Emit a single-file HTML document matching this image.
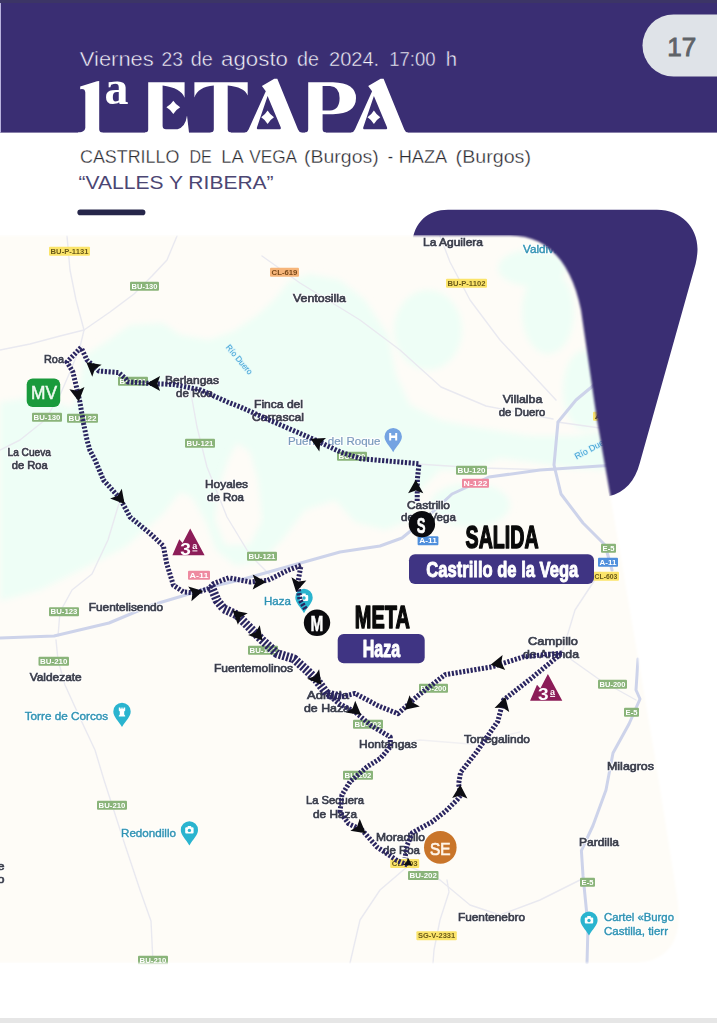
<!DOCTYPE html>
<html><head><meta charset="utf-8"><title>1a Etapa</title>
<style>
html,body{margin:0;padding:0;background:#fff;}
body{width:717px;height:1023px;overflow:hidden;position:relative;font-family:"Liberation Sans",sans-serif;}
svg{position:absolute;left:0;top:0;display:block;}
text{font-family:"Liberation Sans",sans-serif;}
.lbh{font-size:11.5px;fill:#fff;stroke:#fff;stroke-width:2.4px;stroke-linejoin:round;opacity:.9}
.lb{font-size:11.5px;fill:#3a3d4a;stroke:#3a3d4a;stroke-width:.65px;}
.tl{font-size:11.5px;fill:#2f93b3;stroke:#2f93b3;stroke-width:.4px;}
.tb{font-size:11.5px;fill:#7b9bbd;stroke:#7b9bbd;stroke-width:.2px;}
.sg{font-size:7px;font-weight:bold;}
.rt{fill:none;stroke:#2b2560;stroke-width:5;stroke-dasharray:2.2 1.6;stroke-linejoin:round;}
.rd{fill:none;stroke:#dcdfee;stroke-width:2;stroke-linecap:round;stroke-linejoin:round;}
.rd2{fill:none;stroke:#cdd3ea;stroke-width:3;stroke-linecap:round;stroke-linejoin:round;}
.rd3{fill:none;stroke:#e9e9f0;stroke-width:1.4;stroke-linecap:round;stroke-linejoin:round;}
</style></head><body>
<svg width="717" height="1023" viewBox="0 0 717 1023">
<defs>
<filter id="mblur" x="-5%" y="-5%" width="110%" height="110%"><feGaussianBlur stdDeviation="1.3"/></filter>
<mask id="mapmask" maskUnits="userSpaceOnUse" x="-30" y="200" width="780" height="800"><path d="M-30,235.5 L510,235.5 C546,235.5 571,260 581,310 L597,420 L610.2,495 L655.5,760 L677,896 Q688,963 630,963 L-30,963 Z" fill="#fff" filter="url(#mblur)"/></mask>
<filter id="soft" x="-5%" y="-5%" width="110%" height="110%"><feGaussianBlur stdDeviation="0.45"/></filter>
<filter id="soft2" x="-5%" y="-5%" width="110%" height="110%"><feGaussianBlur stdDeviation="3"/></filter>
<path id="arr" d="M0,-7.2 L7.6,6.3 L0,3.6 L-7.6,6.3 Z" fill="#0d0d12"/>
</defs>
<rect x="0" y="0" width="717" height="1023" fill="#ffffff"/>

<rect x="0" y="0" width="717" height="132.6" fill="#3a2e73"/>
<rect x="0" y="0" width="1" height="132.6" fill="#b9b2de"/>
<rect x="0" y="0" width="717" height="3" fill="#3c3566"/>
<path d="M717,14.5 L673.5,14.5 A31,31 0 0 0 673.5,76.5 L717,76.5 Z" fill="#dfe3e8"/>
<text x="667.2" y="56" font-size="26.5" fill="#5f6368" stroke="#5f6368" stroke-width="0.9" textLength="29" lengthAdjust="spacingAndGlyphs">17</text>
<text x="79.8" y="65.8" font-size="20" fill="#f4f2fb" stroke="#3a2e73" stroke-width="0.45" textLength="74.0" lengthAdjust="spacingAndGlyphs">Viernes</text>
<text x="161.5" y="65.8" font-size="20" fill="#f4f2fb" stroke="#3a2e73" stroke-width="0.45" textLength="21.5" lengthAdjust="spacingAndGlyphs">23</text>
<text x="190.8" y="65.8" font-size="20" fill="#f4f2fb" stroke="#3a2e73" stroke-width="0.45" textLength="22.0" lengthAdjust="spacingAndGlyphs">de</text>
<text x="221.1" y="65.8" font-size="20" fill="#f4f2fb" stroke="#3a2e73" stroke-width="0.45" textLength="66.9" lengthAdjust="spacingAndGlyphs">agosto</text>
<text x="297" y="65.8" font-size="20" fill="#f4f2fb" stroke="#3a2e73" stroke-width="0.45" textLength="21.9" lengthAdjust="spacingAndGlyphs">de</text>
<text x="329" y="65.8" font-size="20" fill="#f4f2fb" stroke="#3a2e73" stroke-width="0.45" textLength="50.2" lengthAdjust="spacingAndGlyphs">2024.</text>
<text x="389.2" y="65.8" font-size="20" fill="#f4f2fb" stroke="#3a2e73" stroke-width="0.45" textLength="46.4" lengthAdjust="spacingAndGlyphs">17:00</text>
<text x="445.7" y="65.8" font-size="20" fill="#f4f2fb" stroke="#3a2e73" stroke-width="0.45" textLength="11.3" lengthAdjust="spacingAndGlyphs">h</text>
<path fill="#ffffff" d="M80.2,86.6 L97,81.2 L99.2,81 L99.2,129.2 Q99.4,132.5 102.5,132.6 L102.5,135 L78,135 L78,132.6 Q84.6,132.4 85.3,128 L85.3,92.5 Q85,88.2 80.2,89.3 Z"/>
<text x="104.6" y="103.8" font-family="Liberation Serif" font-weight="bold" font-size="49.5" fill="#ffffff" textLength="24" lengthAdjust="spacingAndGlyphs" style="font-family:'Liberation Serif',serif">a</text>
<path fill="#ffffff" d="M148.2,82.2 L184.6,82.2 L184.6,97.8 Q181,88 162.6,85.6 L162.6,126 Q162.8,129.2 166,129.2 L177.5,129.2 Q185.5,127 187,115.5 L189,132.5 L189,135 L145,135 L145,132.6 Q148.2,132.4 148.2,129.5 Z"/>
<path fill="#ffffff" d="M173.3,100.7 Q175.92200000000003,104.792 180.20000000000002,107.3 Q175.92200000000003,109.80799999999999 173.3,113.89999999999999 Q170.678,109.80799999999999 166.4,107.3 Q170.678,104.792 173.3,100.7Z"/>
<path fill="#ffffff" d="M194.4,82.2 L247.7,82.2 L247.7,95.5 Q244,87 227.7,85.6 L227.7,129.3 Q228,132.5 231,132.6 L231,135 L210.5,135 L210.5,132.6 Q213.6,132.5 213.8,129.3 L213.8,85.6 Q198,87 194.4,97.5 Z"/>
<g transform="translate(-106.3,0)"><path fill="#ffffff" d="M368.2,85.9 L380.6,78.8 L383.6,78.8 L404.3,129.4 Q405.6,132.4 408,132.7 L408,135 L351,135 L351,132.7 Q353.6,132.3 354.9,129.4 L372.1,91.2 Z"/><path fill="#3a2e73" d="M373.9,96 L386.9,127 Q387.9,129.3 385.4,129.3 L364.9,129.3 Q362.4,129.3 363.4,127 Z"/><path fill="#ffffff" d="M373.9,110.6 Q376.332,114.75399999999999 380.29999999999995,117.3 Q376.332,119.846 373.9,124.0 Q371.46799999999996,119.846 367.5,117.3 Q371.46799999999996,114.75399999999999 373.9,110.6Z"/></g>
<g transform="translate(0,0)"><path fill="#ffffff" d="M368.2,85.9 L380.6,78.8 L383.6,78.8 L404.3,129.4 Q405.6,132.4 408,132.7 L408,135 L351,135 L351,132.7 Q353.6,132.3 354.9,129.4 L372.1,91.2 Z"/><path fill="#3a2e73" d="M373.9,96 L386.9,127 Q387.9,129.3 385.4,129.3 L364.9,129.3 Q362.4,129.3 363.4,127 Z"/><path fill="#ffffff" d="M373.9,110.6 Q376.332,114.75399999999999 380.29999999999995,117.3 Q376.332,119.846 373.9,124.0 Q371.46799999999996,119.846 367.5,117.3 Q371.46799999999996,114.75399999999999 373.9,110.6Z"/></g>
<path fill="#ffffff" fill-rule="evenodd" d="M308.2,82.2 L333,82.2 Q356,83 356,98 Q356,113.5 333,114.3 L322.6,114.3 L322.6,129.3 Q322.8,132.5 326,132.6 L326,135 L305,135 L305,132.6 Q308,132.5 308.2,129.3 Z M322.6,86 L322.6,110.6 L330,110.6 Q339.6,110 339.6,98 Q339.6,86.6 330,86 Z"/>
<text x="80" y="162.8" font-size="17.6" fill="#2a2a30" stroke="#ffffff" stroke-width="0.3" textLength="99.4" lengthAdjust="spacingAndGlyphs">CASTRILLO</text>
<text x="189.4" y="162.8" font-size="17.6" fill="#2a2a30" stroke="#ffffff" stroke-width="0.3" textLength="22.3" lengthAdjust="spacingAndGlyphs">DE</text>
<text x="221.3" y="162.8" font-size="17.6" fill="#2a2a30" stroke="#ffffff" stroke-width="0.3" textLength="22.3" lengthAdjust="spacingAndGlyphs">LA</text>
<text x="249.2" y="162.8" font-size="17.6" fill="#2a2a30" stroke="#ffffff" stroke-width="0.3" textLength="47.9" lengthAdjust="spacingAndGlyphs">VEGA</text>
<text x="304" y="162.8" font-size="17.6" fill="#2a2a30" stroke="#ffffff" stroke-width="0.3" textLength="74.7" lengthAdjust="spacingAndGlyphs">(Burgos)</text>
<text x="387.7" y="162.8" font-size="17.6" fill="#2a2a30" stroke="#ffffff" stroke-width="0.3" textLength="5.3" lengthAdjust="spacingAndGlyphs">-</text>
<text x="398.7" y="162.8" font-size="17.6" fill="#2a2a30" stroke="#ffffff" stroke-width="0.3" textLength="48.6" lengthAdjust="spacingAndGlyphs">HAZA</text>
<text x="455.6" y="162.8" font-size="17.6" fill="#2a2a30" stroke="#ffffff" stroke-width="0.3" textLength="75.4" lengthAdjust="spacingAndGlyphs">(Burgos)</text>
<text x="78.6" y="188.6" font-size="18.2" fill="#4b4673" textLength="195" lengthAdjust="spacingAndGlyphs">“VALLES Y RIBERA”</text>
<rect x="77.4" y="209.6" width="68" height="5.6" rx="2.8" fill="#26264a"/>
<path fill="#3a2e73" d="M412,244 C414,222 428,209.8 448,209.8 L657,209.8 C682,209.8 699,229 697.4,252 Q697,258 695.6,264 L639.8,463 C635,481 625,492.5 609,496.3 L560,300 Z"/><g mask="url(#mapmask)">
<rect x="0" y="235" width="717" height="728" fill="#fefcf7"/>
<g fill="#eefef6" filter="url(#soft2)">
<path d="M0,402 L30,398 L58,403 L72,408 L78,395 L84,356 L109,340 L130,325 L163,323 L180,335 L209,340 L234,331 L259,314 L276,298 L289,281 L310,274 L340,280 L365,300 L388,335 L396,375 L410,405 L440,420 L480,428 L530,436 L575,436 L610,430 L612,470 L570,468 L530,462 L500,458 L470,470 L440,470 L420,490 L410,520 L385,530 L355,522 L335,500 L305,510 L282,540 L262,560 L236,566 L216,550 L206,522 L192,497 L180,492 L163,514 L125,547 L84,568 L40,590 L0,601 Z"/>
<ellipse cx="428" cy="330" rx="34" ry="40"/>
<ellipse cx="532" cy="268" rx="34" ry="18"/>
<ellipse cx="548" cy="312" rx="26" ry="42"/>
<ellipse cx="585" cy="390" rx="22" ry="40"/>
<ellipse cx="470" cy="505" rx="40" ry="22"/>
</g>
<g fill="#fefcf7" filter="url(#soft2)">
<path d="M237,443 L250,452 L258,480 L262,520 L250,545 L225,545 L215,520 L218,490 L228,460 Z"/>
</g>
<g class="rd3">
<path d="M67,236 L70,270 L76,300 L84,330 L80,347"/>
<path d="M84,330 L110,312 L134,294 L152,276 L167,260 L177,236"/>
<path d="M0,350 L30,344 L60,336 L84,330"/>
<path d="M80,347 L70,372 L60,395 L45,420 L20,440 L0,450"/>
<path d="M262,256 L300,283 L360,320 L400,350 L441,387 L486,406 L553,419"/>
<path d="M440,236 L450,262 L470,300 L500,340 L530,372 L556,400"/>
<path d="M190,388 L197,427 L207,467 L227,517 L250,555 L275,580"/>
<path d="M58,636 L60,612 L72,590 L92,574 L108,540 L120,500"/>
<path d="M56,640 L58,660 L65,685 L80,718 L95,750 L104,780 L125,845 L140,890 L151,921 L153,963"/>
<path d="M408,866 L440,880 L470,905 L500,915 L540,900 L580,880"/>
<path d="M408,866 L380,890 L360,920 L350,963"/>
<path d="M447,880 L449,892 L440,920 L434,950 L433,963"/>
<path d="M562,653 L600,680 L636,700"/>
<path d="M562,653 L575,610 L600,572"/>
<path d="M417,464 L480,468 L554,470"/>
<path d="M557,422 L600,428 L640,430"/>
<path d="M390,745 L420,740 L470,744 L520,732" style="stroke:#f1f0f2"/>
</g>
<g class="rd2">
<path d="M0,638 L54,636 L109,623 L152,605 L189,594 L214,586 L240,580 L290,566 L340,552 L380,546 L402,538 L424,520 L452,494 L489,477 L540,470 L600,466 L640,464"/>
<path d="M600,380 L576,400 L558,422 L554,465 L561,494 L583,523 L605,545 L612,570"/>
<path d="M638,659 L636,690 L640,699 L629,724 L613,753 L606,790 L593,825.5 L581.4,850.6 L583,875.7 L588,926 L587,963"/>
</g>
<rect x="49" y="246.7" width="41" height="9" rx="1" fill="#fbe46a"/>
<text class="sg" x="50.6" y="253.79999999999998" fill="#6a5a1a" textLength="37.8" lengthAdjust="spacingAndGlyphs">BU-P-1131</text>
<rect x="130" y="281.7" width="29" height="9" rx="1" fill="#8ab47a"/>
<text class="sg" x="131.6" y="288.8" fill="#ffffff" textLength="25.8" lengthAdjust="spacingAndGlyphs">BU-130</text>
<rect x="270" y="267.7" width="29" height="9" rx="1" fill="#f6b57a"/>
<text class="sg" x="271.6" y="274.8" fill="#7a4a1a" textLength="25.8" lengthAdjust="spacingAndGlyphs">CL-619</text>
<rect x="446" y="278.7" width="41" height="9" rx="1" fill="#fbe46a"/>
<text class="sg" x="447.6" y="285.8" fill="#6a5a1a" textLength="37.8" lengthAdjust="spacingAndGlyphs">BU-P-1102</text>
<rect x="32" y="412.7" width="30" height="9" rx="1" fill="#8ab47a"/>
<text class="sg" x="33.6" y="419.8" fill="#ffffff" textLength="26.8" lengthAdjust="spacingAndGlyphs">BU-130</text>
<rect x="67" y="413.7" width="31" height="9" rx="1" fill="#8ab47a"/>
<text class="sg" x="68.6" y="420.8" fill="#ffffff" textLength="27.8" lengthAdjust="spacingAndGlyphs">BU-122</text>
<rect x="185" y="438.7" width="30" height="9" rx="1" fill="#8ab47a"/>
<text class="sg" x="186.6" y="445.8" fill="#ffffff" textLength="26.8" lengthAdjust="spacingAndGlyphs">BU-121</text>
<rect x="247" y="551.7" width="30" height="9" rx="1" fill="#8ab47a"/>
<text class="sg" x="248.6" y="558.8000000000001" fill="#ffffff" textLength="26.8" lengthAdjust="spacingAndGlyphs">BU-121</text>
<rect x="456" y="465.7" width="31" height="9" rx="1" fill="#8ab47a"/>
<text class="sg" x="457.6" y="472.8" fill="#ffffff" textLength="27.8" lengthAdjust="spacingAndGlyphs">BU-120</text>
<rect x="462" y="478.7" width="27" height="9" rx="1" fill="#ee8aa0"/>
<text class="sg" x="463.6" y="485.8" fill="#ffffff" textLength="23.8" lengthAdjust="spacingAndGlyphs">N-122</text>
<rect x="417.6" y="536.2" width="20.8" height="9" rx="1" fill="#4f8fdc"/>
<text class="sg" x="419.20000000000005" y="543.3000000000001" fill="#ffffff" textLength="17.6" lengthAdjust="spacingAndGlyphs">A-11</text>
<rect x="188" y="570.7" width="22" height="9" rx="1" fill="#ee8aa0"/>
<text class="sg" x="189.6" y="577.8000000000001" fill="#ffffff" textLength="18.8" lengthAdjust="spacingAndGlyphs">A-11</text>
<rect x="49" y="607.2" width="30" height="9" rx="1" fill="#8ab47a"/>
<text class="sg" x="50.6" y="614.3000000000001" fill="#ffffff" textLength="26.8" lengthAdjust="spacingAndGlyphs">BU-123</text>
<rect x="38.5" y="656.7" width="30.5" height="9" rx="1" fill="#8ab47a"/>
<text class="sg" x="40.1" y="663.8000000000001" fill="#ffffff" textLength="27.3" lengthAdjust="spacingAndGlyphs">BU-210</text>
<rect x="97" y="800.7" width="30" height="9" rx="1" fill="#8ab47a"/>
<text class="sg" x="98.6" y="807.8000000000001" fill="#ffffff" textLength="26.8" lengthAdjust="spacingAndGlyphs">BU-210</text>
<rect x="138" y="955.7" width="30" height="9" rx="1" fill="#8ab47a"/>
<text class="sg" x="139.6" y="962.8000000000001" fill="#ffffff" textLength="26.8" lengthAdjust="spacingAndGlyphs">BU-210</text>
<rect x="419" y="683.7" width="29" height="9" rx="1" fill="#8ab47a"/>
<text class="sg" x="420.6" y="690.8000000000001" fill="#ffffff" textLength="25.8" lengthAdjust="spacingAndGlyphs">BU-200</text>
<rect x="353" y="719.7" width="30" height="9" rx="1" fill="#8ab47a"/>
<text class="sg" x="354.6" y="726.8000000000001" fill="#ffffff" textLength="26.8" lengthAdjust="spacingAndGlyphs">BU-202</text>
<rect x="343" y="770.7" width="30" height="9" rx="1" fill="#8ab47a"/>
<text class="sg" x="344.6" y="777.8000000000001" fill="#ffffff" textLength="26.8" lengthAdjust="spacingAndGlyphs">BU-202</text>
<rect x="408" y="870.9000000000001" width="30.5" height="9" rx="1" fill="#8ab47a"/>
<text class="sg" x="409.6" y="878.0000000000001" fill="#ffffff" textLength="27.3" lengthAdjust="spacingAndGlyphs">BU-202</text>
<rect x="390.2" y="859.1" width="29" height="9" rx="1" fill="#fbe46a"/>
<text class="sg" x="391.8" y="866.2" fill="#6a5a1a" textLength="25.8" lengthAdjust="spacingAndGlyphs">CL-603</text>
<rect x="601" y="543.7" width="15" height="9" rx="1" fill="#8ab47a"/>
<text class="sg" x="602.6" y="550.8000000000001" fill="#ffffff" textLength="11.8" lengthAdjust="spacingAndGlyphs">E-5</text>
<rect x="598" y="557.7" width="20" height="9" rx="1" fill="#4f8fdc"/>
<text class="sg" x="599.6" y="564.8000000000001" fill="#ffffff" textLength="16.8" lengthAdjust="spacingAndGlyphs">A-11</text>
<rect x="593" y="571.7" width="26" height="9" rx="1" fill="#fbe46a"/>
<text class="sg" x="594.6" y="578.8000000000001" fill="#6a5a1a" textLength="22.8" lengthAdjust="spacingAndGlyphs">CL-603</text>
<rect x="598" y="679.7" width="29" height="9" rx="1" fill="#8ab47a"/>
<text class="sg" x="599.6" y="686.8000000000001" fill="#ffffff" textLength="25.8" lengthAdjust="spacingAndGlyphs">BU-200</text>
<rect x="624" y="707.7" width="15" height="9" rx="1" fill="#8ab47a"/>
<text class="sg" x="625.6" y="714.8000000000001" fill="#ffffff" textLength="11.8" lengthAdjust="spacingAndGlyphs">E-5</text>
<rect x="580" y="877.7" width="15" height="9" rx="1" fill="#8ab47a"/>
<text class="sg" x="581.6" y="884.8000000000001" fill="#ffffff" textLength="11.8" lengthAdjust="spacingAndGlyphs">E-5</text>
<rect x="416.4" y="931.3000000000001" width="40.4" height="9" rx="1" fill="#fbe46a"/>
<text class="sg" x="418.0" y="938.4000000000001" fill="#6a5a1a" textLength="37.199999999999996" lengthAdjust="spacingAndGlyphs">SG-V-2331</text>
<rect x="118" y="376.7" width="30" height="9" rx="1" fill="#8ab47a"/>
<text class="sg" x="119.6" y="383.8" fill="#ffffff" textLength="26.8" lengthAdjust="spacingAndGlyphs">BU-121</text>
<rect x="593" y="411.7" width="22" height="9" rx="1" fill="#fbe46a"/>
<text class="sg" x="594.6" y="418.8" fill="#6a5a1a" textLength="18.8" lengthAdjust="spacingAndGlyphs">A-1</text>
<rect x="337" y="451.7" width="30" height="9" rx="1" fill="#8ab47a"/>
<text class="sg" x="338.6" y="458.8" fill="#ffffff" textLength="26.8" lengthAdjust="spacingAndGlyphs">BU-120</text>
<rect x="248" y="645.7" width="30" height="9" rx="1" fill="#8ab47a"/>
<text class="sg" x="249.6" y="652.8000000000001" fill="#ffffff" textLength="26.8" lengthAdjust="spacingAndGlyphs">BU-121</text>
<text class="lbh" x="423" y="246" textLength="60" lengthAdjust="spacingAndGlyphs">La Aguilera</text>
<text class="lb" x="423" y="246" textLength="60" lengthAdjust="spacingAndGlyphs">La Aguilera</text>
<text class="lbh" x="523" y="253" textLength="40" lengthAdjust="spacingAndGlyphs">Valdivia</text>
<text class="tl" x="523" y="253" textLength="40" lengthAdjust="spacingAndGlyphs">Valdivia</text>
<text class="lbh" x="293" y="302" textLength="53" lengthAdjust="spacingAndGlyphs">Ventosilla</text>
<text class="lb" x="293" y="302" textLength="53" lengthAdjust="spacingAndGlyphs">Ventosilla</text>
<text class="lbh" x="44" y="363" textLength="20" lengthAdjust="spacingAndGlyphs">Roa</text>
<text class="lb" x="44" y="363" textLength="20" lengthAdjust="spacingAndGlyphs">Roa</text>
<text class="lbh" x="165" y="384" textLength="54" lengthAdjust="spacingAndGlyphs">Berlangas</text>
<text class="lb" x="165" y="384" textLength="54" lengthAdjust="spacingAndGlyphs">Berlangas</text>
<text class="lbh" x="176" y="397" textLength="37" lengthAdjust="spacingAndGlyphs">de Roa</text>
<text class="lb" x="176" y="397" textLength="37" lengthAdjust="spacingAndGlyphs">de Roa</text>
<text class="lbh" x="254" y="408" textLength="49" lengthAdjust="spacingAndGlyphs">Finca del</text>
<text class="lb" x="254" y="408" textLength="49" lengthAdjust="spacingAndGlyphs">Finca del</text>
<text class="lbh" x="252" y="421" textLength="52" lengthAdjust="spacingAndGlyphs">Carrascal</text>
<text class="lb" x="252" y="421" textLength="52" lengthAdjust="spacingAndGlyphs">Carrascal</text>
<text class="lbh" x="287.9" y="444.6" textLength="92.6" lengthAdjust="spacingAndGlyphs">Puente del Roque</text>
<text class="tb" x="287.9" y="444.6" textLength="92.6" lengthAdjust="spacingAndGlyphs">Puente del Roque</text>
<text class="lbh" x="502.8" y="403" textLength="39.5" lengthAdjust="spacingAndGlyphs">Villalba</text>
<text class="lb" x="502.8" y="403" textLength="39.5" lengthAdjust="spacingAndGlyphs">Villalba</text>
<text class="lbh" x="498.8" y="416" textLength="46.5" lengthAdjust="spacingAndGlyphs">de Duero</text>
<text class="lb" x="498.8" y="416" textLength="46.5" lengthAdjust="spacingAndGlyphs">de Duero</text>
<text class="lbh" x="7.5" y="456" textLength="43.5" lengthAdjust="spacingAndGlyphs">La Cueva</text>
<text class="lb" x="7.5" y="456" textLength="43.5" lengthAdjust="spacingAndGlyphs">La Cueva</text>
<text class="lbh" x="11.7" y="469" textLength="36" lengthAdjust="spacingAndGlyphs">de Roa</text>
<text class="lb" x="11.7" y="469" textLength="36" lengthAdjust="spacingAndGlyphs">de Roa</text>
<text class="lbh" x="205" y="488" textLength="43" lengthAdjust="spacingAndGlyphs">Hoyales</text>
<text class="lb" x="205" y="488" textLength="43" lengthAdjust="spacingAndGlyphs">Hoyales</text>
<text class="lbh" x="207" y="501" textLength="37" lengthAdjust="spacingAndGlyphs">de Roa</text>
<text class="lb" x="207" y="501" textLength="37" lengthAdjust="spacingAndGlyphs">de Roa</text>
<text class="lbh" x="407" y="508.6" textLength="43" lengthAdjust="spacingAndGlyphs">Castrillo</text>
<text class="lb" x="407" y="508.6" textLength="43" lengthAdjust="spacingAndGlyphs">Castrillo</text>
<text class="lbh" x="401" y="520.8" textLength="55" lengthAdjust="spacingAndGlyphs">de la Vega</text>
<text class="lb" x="401" y="520.8" textLength="55" lengthAdjust="spacingAndGlyphs">de la Vega</text>
<text class="lbh" x="88.8" y="610.7" textLength="74.4" lengthAdjust="spacingAndGlyphs">Fuentelisendo</text>
<text class="lb" x="88.8" y="610.7" textLength="74.4" lengthAdjust="spacingAndGlyphs">Fuentelisendo</text>
<text class="lbh" x="264" y="605" textLength="27" lengthAdjust="spacingAndGlyphs">Haza</text>
<text class="tl" x="264" y="605" textLength="27" lengthAdjust="spacingAndGlyphs">Haza</text>
<text class="lbh" x="214" y="672" textLength="79" lengthAdjust="spacingAndGlyphs">Fuentemolinos</text>
<text class="lb" x="214" y="672" textLength="79" lengthAdjust="spacingAndGlyphs">Fuentemolinos</text>
<text class="lbh" x="29.7" y="680.7" textLength="52" lengthAdjust="spacingAndGlyphs">Valdezate</text>
<text class="lb" x="29.7" y="680.7" textLength="52" lengthAdjust="spacingAndGlyphs">Valdezate</text>
<text class="lbh" x="307" y="699" textLength="42" lengthAdjust="spacingAndGlyphs">Adrada</text>
<text class="lb" x="307" y="699" textLength="42" lengthAdjust="spacingAndGlyphs">Adrada</text>
<text class="lbh" x="304" y="712" textLength="46" lengthAdjust="spacingAndGlyphs">de Haza</text>
<text class="lb" x="304" y="712" textLength="46" lengthAdjust="spacingAndGlyphs">de Haza</text>
<text class="lbh" x="24.7" y="719.5" textLength="83.5" lengthAdjust="spacingAndGlyphs">Torre de Corcos</text>
<text class="tl" x="24.7" y="719.5" textLength="83.5" lengthAdjust="spacingAndGlyphs">Torre de Corcos</text>
<text class="lbh" x="528" y="645" textLength="50" lengthAdjust="spacingAndGlyphs">Campillo</text>
<text class="lb" x="528" y="645" textLength="50" lengthAdjust="spacingAndGlyphs">Campillo</text>
<text class="lbh" x="523" y="658" textLength="56" lengthAdjust="spacingAndGlyphs">de Aranda</text>
<text class="lb" x="523" y="658" textLength="56" lengthAdjust="spacingAndGlyphs">de Aranda</text>
<text class="lbh" x="359" y="748" textLength="58" lengthAdjust="spacingAndGlyphs">Hontangas</text>
<text class="lb" x="359" y="748" textLength="58" lengthAdjust="spacingAndGlyphs">Hontangas</text>
<text class="lbh" x="464" y="743" textLength="66" lengthAdjust="spacingAndGlyphs">Torregalindo</text>
<text class="lb" x="464" y="743" textLength="66" lengthAdjust="spacingAndGlyphs">Torregalindo</text>
<text class="lbh" x="607" y="770" textLength="47" lengthAdjust="spacingAndGlyphs">Milagros</text>
<text class="lb" x="607" y="770" textLength="47" lengthAdjust="spacingAndGlyphs">Milagros</text>
<text class="lbh" x="306" y="804" textLength="58" lengthAdjust="spacingAndGlyphs">La Sequera</text>
<text class="lb" x="306" y="804" textLength="58" lengthAdjust="spacingAndGlyphs">La Sequera</text>
<text class="lbh" x="313" y="818" textLength="44" lengthAdjust="spacingAndGlyphs">de Haza</text>
<text class="lb" x="313" y="818" textLength="44" lengthAdjust="spacingAndGlyphs">de Haza</text>
<text class="lbh" x="121" y="837" textLength="55" lengthAdjust="spacingAndGlyphs">Redondillo</text>
<text class="tl" x="121" y="837" textLength="55" lengthAdjust="spacingAndGlyphs">Redondillo</text>
<text class="lbh" x="376" y="841" textLength="49" lengthAdjust="spacingAndGlyphs">Moradillo</text>
<text class="lb" x="376" y="841" textLength="49" lengthAdjust="spacingAndGlyphs">Moradillo</text>
<text class="lbh" x="383" y="854" textLength="37" lengthAdjust="spacingAndGlyphs">de Roa</text>
<text class="lb" x="383" y="854" textLength="37" lengthAdjust="spacingAndGlyphs">de Roa</text>
<text class="lbh" x="579" y="846" textLength="40" lengthAdjust="spacingAndGlyphs">Pardilla</text>
<text class="lb" x="579" y="846" textLength="40" lengthAdjust="spacingAndGlyphs">Pardilla</text>
<text class="lbh" x="458" y="921" textLength="67" lengthAdjust="spacingAndGlyphs">Fuentenebro</text>
<text class="lb" x="458" y="921" textLength="67" lengthAdjust="spacingAndGlyphs">Fuentenebro</text>
<text class="lbh" x="604" y="921" textLength="70" lengthAdjust="spacingAndGlyphs">Cartel «Burgo</text>
<text class="tl" x="604" y="921" textLength="70" lengthAdjust="spacingAndGlyphs">Cartel «Burgo</text>
<text class="lbh" x="604" y="935" textLength="64" lengthAdjust="spacingAndGlyphs">Castilla, tierr</text>
<text class="tl" x="604" y="935" textLength="64" lengthAdjust="spacingAndGlyphs">Castilla, tierr</text>
<text font-size="8.2" fill="#3fa2d3" stroke="#d8f3f8" stroke-width="1.6" paint-order="stroke" textLength="36" lengthAdjust="spacingAndGlyphs" transform="translate(225.6,347.6) rotate(50)">Río Duero</text>
<text font-size="8.6" fill="#3fa2d3" stroke="#d8f3f8" stroke-width="1.6" paint-order="stroke" textLength="40" lengthAdjust="spacingAndGlyphs" transform="translate(576.5,459.5) rotate(-28)">Río Duero</text>
<path d="M384.5,436.6 A8.7,8.7 0 1 1 401.9,436.6 C401.9,441.994 396.854,445.735 393.2,452.26000000000005 C389.546,445.735 384.5,441.994 384.5,436.6 Z" fill="#74a3e2"/>
<path d="M389.2,433.0 h2 v2.6 h4 v-2.6 h2 v7.6 h-2 v-2.6 h-4 v2.6 h-2 Z" fill="#fff"/>
<path d="M113.3,711.4 A8.7,8.7 0 1 1 130.7,711.4 C130.7,716.794 125.654,720.535 122,727.06 C118.346,720.535 113.3,716.794 113.3,711.4 Z" fill="#2ab4cf"/>
<path d="M118.8,707.4 h1.6 v1.3 h1 v-1.3 h1.2 v1.3 h1 v-1.3 h1.6 v3 l-1,1 v3.2 l1,1.2 v0.8 h-6.4 v-0.8 l1,-1.2 v-3.2 l-1,-1 Z" fill="#fff"/>
<path d="M180.8,829.9 A8.6,8.6 0 1 1 198.0,829.9 C198.0,835.232 193.012,838.93 189.4,845.38 C185.788,838.93 180.8,835.232 180.8,829.9 Z" fill="#2ab4cf"/>
<rect x="185.20000000000002" y="827.3" width="8.4" height="6.2" rx="1.1" fill="#fff"/>
<rect x="187.6" y="826.0" width="3.6" height="2" rx="0.5" fill="#fff"/>
<circle cx="189.4" cy="830.4" r="1.7" fill="#2ab4cf"/>
<path d="M580.4,920 A8.6,8.6 0 1 1 597.6,920 C597.6,925.332 592.612,929.03 589,935.48 C585.388,929.03 580.4,925.332 580.4,920 Z" fill="#2ab4cf"/>
<rect x="584.8" y="917.4" width="8.4" height="6.2" rx="1.1" fill="#fff"/>
<rect x="587.2" y="916.1" width="3.6" height="2" rx="0.5" fill="#fff"/>
<circle cx="589" cy="920.5" r="1.7" fill="#2ab4cf"/>
<path d="M295.3,597.5 A8.7,8.7 0 1 1 312.7,597.5 C312.7,602.894 307.654,606.635 304,613.16 C300.346,606.635 295.3,602.894 295.3,597.5 Z" fill="#2ab4cf"/>
<rect x="299.8" y="594.9" width="8.4" height="6.2" rx="1.1" fill="#fff"/>
<rect x="302.2" y="593.6" width="3.6" height="2" rx="0.5" fill="#fff"/>
<circle cx="304" cy="598.0" r="1.7" fill="#2ab4cf"/>
<text class="lbh" x="-2.5" y="870" textLength="7" lengthAdjust="spacingAndGlyphs">e</text>
<text class="lb" x="-2.5" y="870" textLength="7" lengthAdjust="spacingAndGlyphs">e</text>
<text class="lbh" x="-2.5" y="883" textLength="7" lengthAdjust="spacingAndGlyphs">o</text>
<text class="lb" x="-2.5" y="883" textLength="7" lengthAdjust="spacingAndGlyphs">o</text><g class="rt" filter="url(#soft)">
<path d="M417.2,501 L417.4,478.8 L419,463.7 L360.5,458.7 L340.4,452 L312,438.6 L273.5,421.9 L240,406.8 L227.4,402 L200.7,390 L174,384.5 L150.5,383.5 L128,382 L125.5,378.5 L118.8,372.6 L98.7,371 L87,360 L81,347.5"/>
<path d="M81,347.5 L67,362 L72.8,371.8 L76,385 L79.5,400 L83.6,423.7 L87,440 L90,450.5 L95,460 L103.4,480 L120,498.5 L130,517 L150,533.4 L163.4,546 L166.7,563.6 L173.4,585.3 L183.5,592 L195.5,593 L208.6,588.7 L213.6,583.6 L228.7,577.8 L250.4,582 L267.4,580.5 L287.5,570.5 L301,565.4 L297.6,584 L300,600 L306,610"/>
<path d="M327,694 L340.7,697 L355,693.4 L378.6,706 L398,713.7 L417.6,696 L445,674.7 L491.8,666.9 L523,657 L562,653 L530.9,678.6 L503.5,700 L497.7,721.5 L476,752.8 L460.6,772.3 L458.6,784 L460.7,795 L457.2,799.8 L445.5,811.3 L431.8,822 L412.3,832.7 L407.2,845 L405,858"/>
<path d="M327,694 L339.5,704 L355,711.8 L370.8,725.4 L390.3,737 L390.4,746.7 L380.4,758.4 L367,766.8 L350,781.8 L341.9,795 L340,812 L348.6,823.7 L362,830 L377,847 L397,860.5 L408.8,865.5"/>
<path d="M211,586 L217,600.4 L223.6,608.7 L237,615 L252,630 L262,640 L277,653.7 L293.8,658.7 L307,670.5 L317,680.5 L327,694 L340.7,697" style="stroke-width:9"/>
</g>
<use href="#arr" transform="translate(415.7,487) rotate(0)"/>
<use href="#arr" transform="translate(317,442) rotate(-64)"/>
<use href="#arr" transform="translate(153.8,383.5) rotate(-90)"/>
<use href="#arr" transform="translate(92,366.8) rotate(-52)"/>
<use href="#arr" transform="translate(77.8,394.4) rotate(172)"/>
<use href="#arr" transform="translate(120,498.5) rotate(140)"/>
<use href="#arr" transform="translate(196,592.5) rotate(78)"/>
<use href="#arr" transform="translate(259,582) rotate(90)"/>
<use href="#arr" transform="translate(297.6,585) rotate(192)"/>
<use href="#arr" transform="translate(238,615) rotate(-50)"/>
<use href="#arr" transform="translate(258,635) rotate(140)"/>
<use href="#arr" transform="translate(317,679) rotate(142)"/>
<use href="#arr" transform="translate(410,705) rotate(-132)"/>
<use href="#arr" transform="translate(497.7,663.5) rotate(-100)"/>
<use href="#arr" transform="translate(503.5,704) rotate(15)"/>
<use href="#arr" transform="translate(460,792) rotate(2)"/>
<use href="#arr" transform="translate(355.5,710.5) rotate(128)"/>
<use href="#arr" transform="translate(360,828.7) rotate(128)"/>
<use href="#arr" transform="translate(408.6,863.2) rotate(122) scale(0.6)"/>
<rect x="26.7" y="378.5" width="33.5" height="28.5" rx="6" fill="#1a9a3c"/>
<text x="31" y="399.4" font-size="17.5" fill="#eefaf0" stroke="#eefaf0" stroke-width="0.5" textLength="26" lengthAdjust="spacingAndGlyphs">MV</text>
<g transform="translate(0,0)">
<path d="M190.2,528.4 L204.6,555.3 L172.4,555.3 L179.3,539.3 L182.6,543 Z" fill="#8c1d58"/>
<text x="180.2" y="554.5" font-size="17" font-weight="bold" fill="#fff" textLength="10.6" lengthAdjust="spacingAndGlyphs">3</text>
<text x="192.2" y="549.4" font-size="9" font-weight="bold" fill="#fff">a</text>
<rect x="192.4" y="550.4" width="5" height="1" fill="#fff"/>
</g>
<g transform="translate(357.7,145.5)">
<path d="M190.2,528.4 L204.6,555.3 L172.4,555.3 L179.3,539.3 L182.6,543 Z" fill="#8c1d58"/>
<text x="180.2" y="554.5" font-size="17" font-weight="bold" fill="#fff" textLength="10.6" lengthAdjust="spacingAndGlyphs">3</text>
<text x="192.2" y="549.4" font-size="9" font-weight="bold" fill="#fff">a</text>
<rect x="192.4" y="550.4" width="5" height="1" fill="#fff"/>
</g>
<circle cx="421.9" cy="524.1" r="13.2" fill="#0b0b0f"/>
<text x="416.7" y="532.9" font-size="22.6" font-weight="bold" fill="#fff" stroke="#fff" stroke-width="0.6" textLength="8.8" lengthAdjust="spacingAndGlyphs">S</text>
<circle cx="317" cy="622.8" r="13.2" fill="#0b0b0f"/>
<text x="310.6" y="630.9" font-size="22" font-weight="bold" fill="#fff" stroke="#fff" stroke-width="0.5" textLength="12.8" lengthAdjust="spacingAndGlyphs">M</text>
<circle cx="440.3" cy="847.4" r="16.3" fill="#c9752a"/>
<text x="429.9" y="855.2" font-size="16.3" fill="#fff5e8" stroke="#fff5e8" stroke-width="0.7" textLength="20.5" lengthAdjust="spacingAndGlyphs">SE</text>
<text x="465.6" y="548" font-size="30.6" font-weight="bold" fill="#0a0a0a" stroke="#0a0a0a" stroke-width="1.5" stroke-linejoin="round" textLength="73" lengthAdjust="spacingAndGlyphs">SALIDA</text>
<rect x="409" y="554.3" width="185" height="29.6" rx="6" fill="#3f3483"/>
<text x="426.3" y="576.6" font-size="22.6" font-weight="bold" fill="#fff" stroke="#fff" stroke-width="1.0" stroke-linejoin="round" textLength="152" lengthAdjust="spacingAndGlyphs">Castrillo de la Vega</text>
<text x="354.8" y="627.6" font-size="30.6" font-weight="bold" fill="#0a0a0a" stroke="#0a0a0a" stroke-width="1.5" stroke-linejoin="round" textLength="55" lengthAdjust="spacingAndGlyphs">META</text>
<rect x="337.7" y="633.9" width="87" height="29.4" rx="6" fill="#3f3483"/>
<text x="362.8" y="657" font-size="23" font-weight="bold" fill="#fff" stroke="#fff" stroke-width="1.0" stroke-linejoin="round" textLength="37.4" lengthAdjust="spacingAndGlyphs">Haza</text>
</g>
<rect x="0" y="1018" width="717" height="5" fill="#e6e6e6"/>
</svg></body></html>
